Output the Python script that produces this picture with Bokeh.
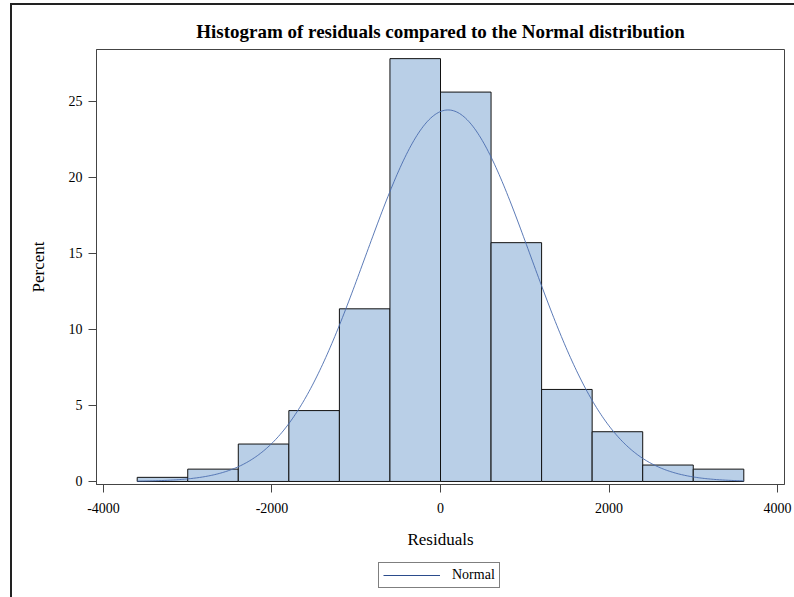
import numpy as np
from bokeh.plotting import figure
from bokeh.layouts import column
from bokeh.models import Range1d, FixedTicker, Legend, LegendItem
from bokeh.embed import file_html
from bokeh.resources import INLINE

# ---- data ----
bin_left = [-3600, -3000, -2400, -1800, -1200, -600, 0, 600, 1200, 1800, 2400, 3000]
bin_right = [-3000, -2400, -1800, -1200, -600, 0, 600, 1200, 1800, 2400, 3000, 3600]
percent = [0.27, 0.81, 2.46, 4.66, 11.35, 27.8, 25.6, 15.7, 6.05, 3.27, 1.08, 0.81]
normal_mean = 90.0
normal_std = 980.0
bin_width = 600.0
x_ticks = [-4000, -2000, 0, 2000, 4000]
x_tick_labels = ["-4000", "-2000", "0", "2000", "4000"]
y_ticks = [0, 5, 10, 15, 20, 25]
y_tick_labels = ["0", "5", "10", "15", "20", "25"]

# Normal curve scaled to percent per bin
curve_x = np.linspace(bin_left[0], bin_right[-1], 400)
curve_y = 100.0 * bin_width / (normal_std * np.sqrt(2 * np.pi)) * np.exp(
    -0.5 * ((curve_x - normal_mean) / normal_std) ** 2)

FONT = "Liberation Serif"

p = figure(width=782, height=552,
           x_range=Range1d(-4083, 4083), y_range=Range1d(-0.2, 28.4),
           output_backend="svg", toolbar_location=None,
           title="Histogram of residuals compared to the Normal distribution",
           min_border_left=84, min_border_right=10, min_border_top=44, min_border_bottom=73)

p.quad(left=bin_left, right=bin_right, bottom=0, top=percent,
       fill_color="#B9CFE7", line_color="#111111", line_width=1)
curve = p.line(curve_x, curve_y, line_color="#4A6CAF", line_width=0.9)

p.title.text_font = FONT
p.title.text_font_style = "bold"
p.title.text_font_size = "19px"
p.title.align = "center"
p.title.text_color = "black"
p.title.standoff = 16

p.grid.visible = False
p.outline_line_color = "#444444"
p.outline_line_width = 1
p.background_fill_color = "white"
p.border_fill_color = "white"

p.xaxis.ticker = FixedTicker(ticks=x_ticks)
p.xaxis.major_label_overrides = dict(zip(x_ticks, x_tick_labels))
p.yaxis.ticker = FixedTicker(ticks=y_ticks)
p.yaxis.major_label_overrides = dict(zip(y_ticks, y_tick_labels))
p.xaxis.axis_label = "Residuals"
p.yaxis.axis_label = "Percent"

for ax in (p.xaxis[0], p.yaxis[0]):
    ax.axis_line_color = "#444444"
    ax.major_tick_line_color = "#444444"
    ax.minor_tick_line_color = None
    ax.major_tick_in = 0
    ax.major_tick_out = 8
    ax.major_label_text_font = FONT
    ax.major_label_text_font_size = "14px"
    ax.major_label_text_color = "black"
    ax.axis_label_text_font = FONT
    ax.axis_label_text_font_size = "17px"
    ax.axis_label_text_font_style = "normal"
    ax.axis_label_text_color = "black"

p.xaxis.major_label_standoff = 10
p.xaxis.axis_label_standoff = 14
p.yaxis.major_label_standoff = 6
p.yaxis.axis_label_standoff = 18

# ---- legend strip below the chart ----
lg = figure(width=782, height=40, x_range=Range1d(0, 1), y_range=Range1d(0, 1),
            output_backend="svg", toolbar_location=None,
            x_axis_type=None, y_axis_type=None,
            min_border_left=0, min_border_right=0, min_border_top=0, min_border_bottom=0)
lg.grid.visible = False
lg.outline_line_color = None
lg.background_fill_color = "white"
lg.border_fill_color = "white"
legend_line = lg.line(curve_x, curve_y, line_color="#2B4C8C", line_width=1)

legend = Legend(items=[LegendItem(label="Normal", renderers=[legend_line])],
                location=(282, 9), orientation="horizontal",
                border_line_color="black", border_line_width=1,
                background_fill_color="white", background_fill_alpha=1,
                label_text_font=FONT, label_text_font_size="14px",
                label_text_color="black",
                glyph_width=57, glyph_height=14, label_height=14,
                label_standoff=12, padding=4, margin=0, spacing=0)
lg.add_layout(legend, "center")

layout = column(p, lg, spacing=0)
layout.styles = {"margin-left": "10px", "margin-top": "3px",
                 "border-left": "2px solid #222", "border-top": "2px solid #222"}

open("out.html", "w").write(file_html(layout, INLINE))
